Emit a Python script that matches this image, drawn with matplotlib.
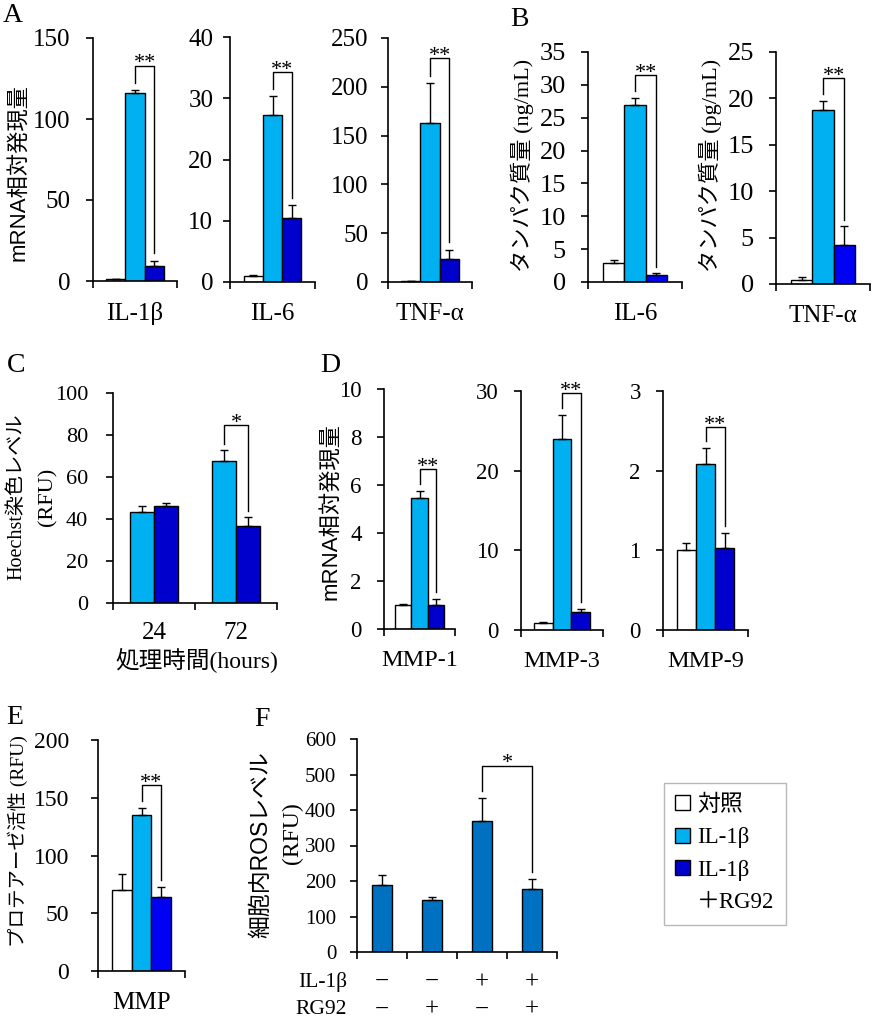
import matplotlib
matplotlib.use('Agg')
import matplotlib.pyplot as plt
from matplotlib.patches import Patch

# figure is laid out in pixels to follow the original panel grid
W, H = 873, 1024
SERIF = ['Liberation Serif', 'Noto Sans CJK JP']
SANS = ['Liberation Sans', 'Noto Sans CJK JP']
plt.rcParams['font.family'] = SERIF

CTRL = 'white'
CYAN = '#00B0F0'
NAVY = '#0000CC'
BLUE = '#0000F5'
ROS_BLUE = '#0070C0'

# === Data ===
groups = ['対照', 'IL-1β', 'IL-1β', '＋RG92']

# A: mRNA relative expression (control, IL-1b, IL-1b+RG92)
a_genes = ['IL-1β', 'IL-6', 'TNF-α']
a_mean = [[1.0, 116.0, 9.0], [1.0, 27.3, 10.5], [1.0, 163.0, 24.0]]
a_err = [[0.2, 2.0, 3.5], [0.15, 3.0, 2.0], [0.5, 41.0, 9.0]]
a_ymax = [150, 40, 250]
a_step = [50, 10, 50]

# B: protein amount
b_genes = ['IL-6', 'TNF-α']
b_units = ['(ng/mL)', '(pg/mL)']
b_mean = [[2.9, 27.0, 1.1], [0.4, 18.8, 4.2]]
b_err = [[0.4, 1.0, 0.2], [0.35, 0.9, 2.0]]
b_ymax = [35, 25]
b_step = [5, 5]

# C: Hoechst staining
c_hours = ['24', '72']
c_il1b = [43.5, 67.8]
c_il1b_err = [2.5, 5.0]
c_rg92 = [46.0, 36.5]
c_rg92_err = [1.5, 4.3]

# D: MMP mRNA
d_genes = ['MMP-1', 'MMP-3', 'MMP-9']
d_mean = [[1.0, 5.45, 1.0], [0.9, 24.0, 2.2], [1.0, 2.08, 1.03]]
d_err = [[0.03, 0.3, 0.25], [0.1, 3.0, 0.4], [0.09, 0.2, 0.19]]
d_ymax = [10, 30, 3]
d_step = [2, 10, 1]

# E: protease activity
e_mean = [70.0, 135.0, 64.0]
e_err = [14.0, 6.0, 9.0]

# F: intracellular ROS
f_mean = [188.0, 147.0, 370.0, 177.0]
f_err = [30.0, 8.0, 65.0, 30.0]
f_il1b = ['−', '−', '+', '+']
f_rg92 = ['−', '+', '−', '+']

fig = plt.figure(figsize=(W / 100, H / 100), dpi=100)


def px_axes(x0, y0, x1, y1):
    return fig.add_axes([x0 / W, 1 - y1 / H, (x1 - x0) / W, (y1 - y0) / H])


def ftext(x, y, s, **kw):
    kw.setdefault('ha', 'center')
    kw.setdefault('va', 'center')
    fig.text(x / W, 1 - y / H, s, **kw)


def style(ax, ymax, step, fs, bounds, cats=None, cat_fs=18, cat_pad=15, ypad=10):
    for s in ['top', 'right']:
        ax.spines[s].set_visible(False)
    for s in ['left', 'bottom']:
        ax.spines[s].set_linewidth(1.2)
    ax.set_ylim(0, ymax)
    ax.set_yticks([i * step for i in range(int(round(ymax / step)) + 1)])
    ax.tick_params(axis='y', direction='out', length=5, width=1.2, labelsize=fs, pad=ypad)
    ax.set_xlim(bounds[0], bounds[-1])
    ax.set_xticks(bounds)
    ax.set_xticklabels([''] * len(bounds))
    ax.tick_params(axis='x', which='major', direction='out', length=5, width=1.2)
    if cats is not None:
        centers = [(bounds[i] + bounds[i + 1]) / 2 for i in range(len(bounds) - 1)]
        ax.set_xticks(centers, minor=True)
        ax.set_xticklabels(cats, minor=True, fontsize=cat_fs)
        ax.tick_params(axis='x', which='minor', length=0, pad=cat_pad)


def three_bars(ax, mean, err, dark):
    ax.bar([-1, 0, 1], mean, width=1.0, color=[CTRL, CYAN, dark],
           edgecolor='black', linewidth=1.0,
           yerr=[[0, 0, 0], err], error_kw=dict(ecolor='black', elinewidth=1.0,
                                                capsize=3, capthick=1.0))


def bracket(ax, x1, x2, y1, y2, ymax, text, frac=0.1, fs=16):
    pad = 0.03 * ymax
    top = max(y1, y2) + frac * ymax
    ax.plot([x1, x1, x2, x2], [y1 + pad, top, top, y2 + pad],
            color='black', lw=1.0, clip_on=False)
    ax.annotate(text, xy=((x1 + x2) / 2, top), xytext=(0, -2),
                textcoords='offset points', ha='center', va='baseline', fontsize=fs)


L = 2.2

# === A ===
a_boxes = [(93, 38, 177, 281), (230, 37, 315, 282), (388, 38, 472, 282)]
a_ypad = [11, 7, 9]
for i, box in enumerate(a_boxes):
    ax = px_axes(*box)
    three_bars(ax, a_mean[i], a_err[i], NAVY)
    style(ax, a_ymax[i], a_step[i], 18, [-L, L], [a_genes[i]], ypad=a_ypad[i])
    bracket(ax, 0, 1, a_mean[i][1] + a_err[i][1], a_mean[i][2] + a_err[i][2],
            a_ymax[i], '**')
ftext(19, 173, 'mRNA相対発現量', rotation=90, fontsize=16, family=SANS)
ftext(13, 16, 'A', fontsize=20)

# === B ===
b_boxes = [(588, 52, 682, 282), (776, 52, 870, 284)]
b_label_x = [522, 710]
for i, box in enumerate(b_boxes):
    ax = px_axes(*box)
    three_bars(ax, b_mean[i], b_err[i], BLUE)
    style(ax, b_ymax[i], b_step[i], 19, [-L, L], [b_genes[i]], ypad=11)
    bracket(ax, 0, 1, b_mean[i][1] + b_err[i][1], b_mean[i][2] + b_err[i][2],
            b_ymax[i], '**')
    ftext(b_label_x[i], 165, 'タンパク質量 ' + b_units[i], rotation=90, fontsize=16)
ftext(519, 19, 'B', fontsize=20)

# === C ===
ax = px_axes(113, 393, 277, 603)
xc = [0.5, 1.5]
w = 0.29
ax.bar([x - w / 2 for x in xc], c_il1b, width=w, color=CYAN, edgecolor='black', lw=1.0,
       yerr=[[0, 0], c_il1b_err], error_kw=dict(ecolor='black', elinewidth=1.0, capsize=3))
ax.bar([x + w / 2 for x in xc], c_rg92, width=w, color=NAVY, edgecolor='black', lw=1.0,
       yerr=[[0, 0], c_rg92_err], error_kw=dict(ecolor='black', elinewidth=1.0, capsize=3))
style(ax, 100, 20, 16, [0, 1, 2], c_hours, cat_fs=18, cat_pad=14, ypad=13)
bracket(ax, 1.5 - w / 2, 1.5 + w / 2, c_il1b[1] + c_il1b_err[1], c_rg92[1] + c_rg92_err[1],
        100, '*', frac=0.12)
ftext(17, 497, 'Hoechst染色レベル', rotation=90, fontsize=14.5)
ftext(48, 497, '(RFU)', rotation=90, fontsize=16)
ftext(197, 660, '処理時間(hours)', fontsize=17)
ftext(16, 366, 'C', fontsize=20)

# === D ===
d_boxes = [(384, 389, 455, 629), (521, 391, 603, 630), (663, 391, 748, 630)]
for i, box in enumerate(d_boxes):
    ax = px_axes(*box)
    three_bars(ax, d_mean[i], d_err[i], NAVY)
    style(ax, d_ymax[i], d_step[i], 16.5, [-L, L], [d_genes[i]], cat_fs=17.5, ypad=11)
    bracket(ax, 0, 1, d_mean[i][1] + d_err[i][1], d_mean[i][2] + d_err[i][2],
            d_ymax[i], '**', frac=0.09)
ftext(331, 512, 'mRNA相対発現量', rotation=90, fontsize=16, family=SANS)
ftext(330, 366, 'D', fontsize=20)

# === E ===
ax = px_axes(98, 740, 185, 971)
three_bars(ax, e_mean, e_err, BLUE)
style(ax, 200, 50, 17, [-L, L], ['MMP'], ypad=16)
bracket(ax, 0, 1, e_mean[1] + e_err[1], e_mean[2] + e_err[2], 200, '**')
ftext(18, 841, 'プロテアーゼ活性 (RFU)', rotation=90, fontsize=14)
ftext(15, 717, 'E', fontsize=20)

# === F ===
ax = px_axes(357, 739, 557, 952)
xf = list(range(len(f_mean)))
ax.bar(xf, f_mean, width=0.4, color=ROS_BLUE, edgecolor='black', lw=1.0,
       yerr=[[0] * len(f_err), f_err], error_kw=dict(ecolor='black', elinewidth=1.0, capsize=3))
style(ax, 600, 100, 15, [-0.5, 0.5, 1.5, 2.5, 3.5], ypad=10)
bracket(ax, 2, 3, f_mean[2] + f_err[2], f_mean[3] + f_err[3], 600, '*', frac=0.15)
for x, s1, s2 in zip(xf, f_il1b, f_rg92):
    ax.text(x, -0.141, s1, transform=ax.get_xaxis_transform(), ha='center', va='center', fontsize=18)
    ax.text(x, -0.272, s2, transform=ax.get_xaxis_transform(), ha='center', va='center', fontsize=18)
ftext(347, 982, 'IL-1β', ha='right', fontsize=15.5)
ftext(347, 1010, 'RG92', ha='right', fontsize=15.5)
ftext(261, 845, '細胞内ROSレベル', rotation=90, fontsize=16.5, family=SANS)
ftext(292, 833, '(RFU)', rotation=90, fontsize=17)
ftext(262, 719, 'F', fontsize=20)

# === Legend ===
handles = [Patch(facecolor=CTRL, edgecolor='black'),
           Patch(facecolor=CYAN, edgecolor='black'),
           Patch(facecolor=NAVY, edgecolor='black'),
           Patch(facecolor='none', edgecolor='none')]
leg = fig.legend(handles, groups, loc='upper left', bbox_to_anchor=(664 / W, 1 - 783 / H),
                 frameon=True, fancybox=False, edgecolor='#A6A6A6', fontsize=16.5,
                 handlelength=0.65, handleheight=0.65, handletextpad=0.3,
                 labelspacing=0.5, borderpad=0.5, borderaxespad=0)
leg.get_frame().set_linewidth(1.0)

fig.savefig('out.png', dpi=100)
